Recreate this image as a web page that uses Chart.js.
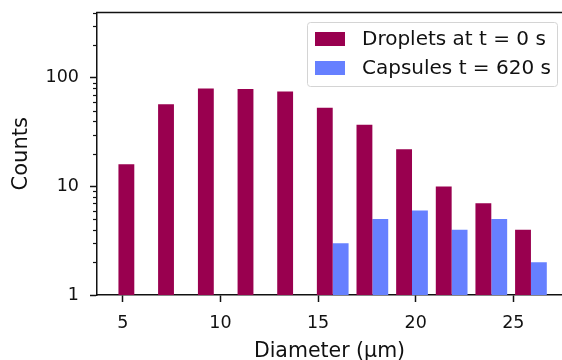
<!DOCTYPE html>
<html>
<head>
<meta charset="utf-8">
<script src="https://cdn.jsdelivr.net/npm/chart.js@4/dist/chart.umd.min.js"></script>
<style>
  html, body { margin: 0; padding: 0; background: #ffffff; }
  #wrap { width: 562px; height: 360px; }
</style>
</head>
<body>
<div id="wrap"><canvas id="c" width="562" height="360"></canvas></div>
<script>
// ---- data ----
const binCenters = [5.59, 7.62, 9.66, 11.69, 13.72, 15.75, 17.78, 19.81, 21.84, 23.87, 25.90];
const droplets   = [16, 57, 80, 79, 75, 53, 37, 22, 10, 7, 4];
const capsules   = [null, null, null, null, null, 3, 5, 6, 4, 5, 2];
const seriesLabels = ['Droplets at t = 0 s', 'Capsules t = 620 s'];
const xTicks = [5, 10, 15, 20, 25];
const yMajorTicks = [1, 10, 100];
const yMinorTicks = [2, 3, 4, 5, 6, 7, 8, 9, 20, 30, 40, 50, 60, 70, 80, 90, 200, 300, 400];
const xLabel = 'Diameter (\u03bcm)';
const yLabel = 'Counts';

const COL_DROP = '#99004f';
const COL_CAPS = '#6680ff';
const INK = '#111111';
const FONT = "'DejaVu Sans', Verdana, sans-serif";

Chart.defaults.font.family = FONT;
Chart.defaults.color = INK;

const frame = {
  id: 'frame',
  afterDraw(chart) {
    const ctx = chart.ctx;
    const a = chart.chartArea;
    const y = chart.scales.y;
    ctx.save();
    // top spine
    ctx.strokeStyle = INK;
    ctx.lineWidth = 1.5;
    ctx.beginPath();
    ctx.moveTo(a.left - 0.75, a.top);
    ctx.lineTo(a.right, a.top);
    ctx.stroke();
    // minor y ticks
    ctx.lineWidth = 1.2;
    yMinorTicks.forEach(v => {
      const py = Math.round(y.getPixelForValue(v)) + 0.5;
      ctx.beginPath();
      ctx.moveTo(a.left - 4, py);
      ctx.lineTo(a.left, py);
      ctx.stroke();
    });
    // legend
    const bx = 307.5, by = 22.5, bw = 250, bh = 64;
    ctx.fillStyle = 'rgba(255,255,255,0.85)';
    ctx.strokeStyle = '#d4d4d4';
    ctx.lineWidth = 1;
    ctx.beginPath();
    ctx.roundRect(bx, by, bw, bh, 3);
    ctx.fill();
    ctx.stroke();
    const rows = [39, 68];
    chart.data.datasets.forEach((ds, i) => {
      ctx.fillStyle = ds.backgroundColor;
      ctx.fillRect(315, rows[i] - 7, 30, 14);
      ctx.fillStyle = INK;
      ctx.font = '20px ' + FONT;
      ctx.textBaseline = 'middle';
      ctx.textAlign = 'left';
      ctx.fillText(ds.label, 362, rows[i] + 1);
    });
    ctx.restore();
  }
};

new Chart(document.getElementById('c'), {
  type: 'bar',
  data: {
    datasets: [
      {
        label: seriesLabels[0],
        data: binCenters.map((x, i) => ({ x: x, y: droplets[i] })),
        backgroundColor: COL_DROP,
        borderWidth: 0
      },
      {
        label: seriesLabels[1],
        data: binCenters.map((x, i) => ({ x: x, y: capsules[i] })),
        backgroundColor: COL_CAPS,
        borderWidth: 0
      }
    ]
  },
  options: {
    responsive: false,
    animation: false,
    devicePixelRatio: 1,
    barPercentage: 1.0,
    categoryPercentage: 0.8,
    layout: { padding: { top: 12.5, right: 0, left: 0, bottom: 0 } },
    plugins: { legend: { display: false }, tooltip: { enabled: false } },
    scales: {
      x: {
        type: 'linear',
        min: 3.68,
        max: 27.49,
        offset: false,
        grid: { display: true, offset: false, drawOnChartArea: false, drawTicks: true, tickLength: 7, tickColor: INK, tickWidth: 1.5 },
        border: { display: true, color: INK, width: 1.5 },
        afterBuildTicks: s => { s.ticks = xTicks.map(v => ({ value: v })); },
        afterFit: s => { s.height = 65; s.paddingLeft = 0; s.paddingRight = 0; },
        ticks: { font: { size: 17.5 }, color: INK, padding: 11, maxRotation: 0, callback: v => String(v) },
        title: { display: true, text: xLabel, font: { size: 20.5 }, color: INK, padding: { top: 0, bottom: -4 } }
      },
      y: {
        type: 'logarithmic',
        min: 1,
        max: 400,
        grid: { display: true, drawOnChartArea: false, drawTicks: true, tickLength: 7, tickColor: INK, tickWidth: 1.5 },
        border: { display: true, color: INK, width: 1.5 },
        afterBuildTicks: s => { s.ticks = yMajorTicks.map(v => ({ value: v, major: true })); },
        afterFit: s => { s.width = 97; s.paddingTop = 0; s.paddingBottom = 0; },
        ticks: { font: { size: 17.5 }, color: INK, padding: 11, callback: v => String(v) },
        title: { display: true, text: yLabel, font: { size: 21 }, color: INK, padding: { top: 9, bottom: 0 } }
      }
    }
  },
  plugins: [frame]
});
</script>
</body>
</html>
